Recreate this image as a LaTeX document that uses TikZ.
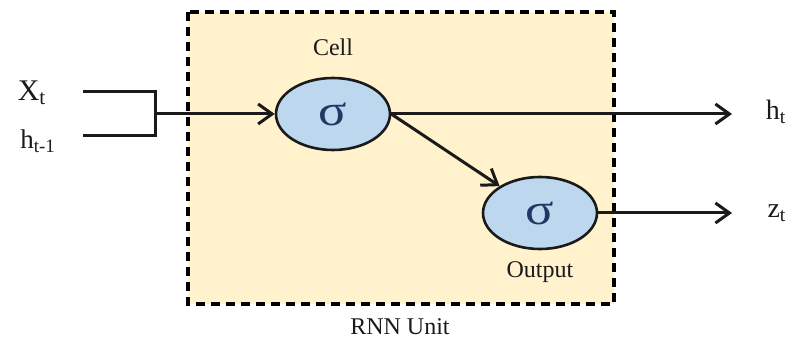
\documentclass[tikz,border=0pt]{standalone}
\usepackage{fontspec}
\setmainfont{Liberation Serif}
\usepackage{xcolor}
\usepackage{tikz}
\usetikzlibrary{arrows.meta,shapes.geometric}
\definecolor{unitbg}{HTML}{FFF2CC}
\definecolor{gatebg}{HTML}{BDD7EE}
\definecolor{ink}{HTML}{1A1A1A}
\definecolor{sig}{HTML}{1F3864}

\begin{document}
\begin{tikzpicture}[x=0.5pt,y=-0.5pt,every node/.style={text=ink},
  gate/.style={ellipse,draw=ink,line width=1.3pt,fill=gatebg,minimum width=57pt,minimum height=36pt,
    font=\fontsize{22}{22}\selectfont,text=sig},
  lbl/.style={font=\fontsize{12}{14}\selectfont},
  io/.style={font=\fontsize{14}{16}\selectfont},
  ln/.style={line width=1.5pt,ink},
  a/.style={ln,-{Straight Barb[length=7pt,width=10pt,line width=1.5pt]}}]
  \useasboundingbox (0,0) rectangle (799,347);
  % the unit itself
  \draw[line width=1.6pt,dash pattern=on 4.5pt off 3pt,fill=unitbg] (188,12) rectangle (614,304);
  \node[lbl] (unit) at (400,327) {RNN Unit};
  % gates
  \node[gate] (cell) at (333,114) {\scalebox{1.2}[1]{σ}};
  \node[gate] (out)  at (540,213) {\scalebox{1.2}[1]{σ}};
  \node[lbl] (celltxt) at (333,47) {Cell};
  \node[lbl] (outtxt)  at (540,272) {Output};
  % inputs
  \node[io,font=\fontsize{15}{17}\selectfont] (xt)  at (32,93)  {X\textsubscript{t}};
  \node[io,font=\fontsize{13.5}{15}\selectfont] (ht1) at (38,141) {h\textsubscript{t-1}};
  \coordinate (in1) at (83,92);
  \coordinate (in2) at (83,136);
  \coordinate (j) at (155,114);
  \draw[ln] (in1) -| (j) |- (in2);
  \draw[a] (j) -- (cell);
  % outputs
  \node[io] (ht) at (776,112) {h\textsubscript{t}};
  \node[io] (zt) at (777,213) {z\textsubscript{t}};
  \coordinate (hend) at (732,114);
  \coordinate (zend) at (732,213);
  \draw[a] (cell.east) -- (hend);
  \draw[a] (cell.east) -- (out);
  \draw[a] (out.east) -- (zend);
\end{tikzpicture}
\end{document}
